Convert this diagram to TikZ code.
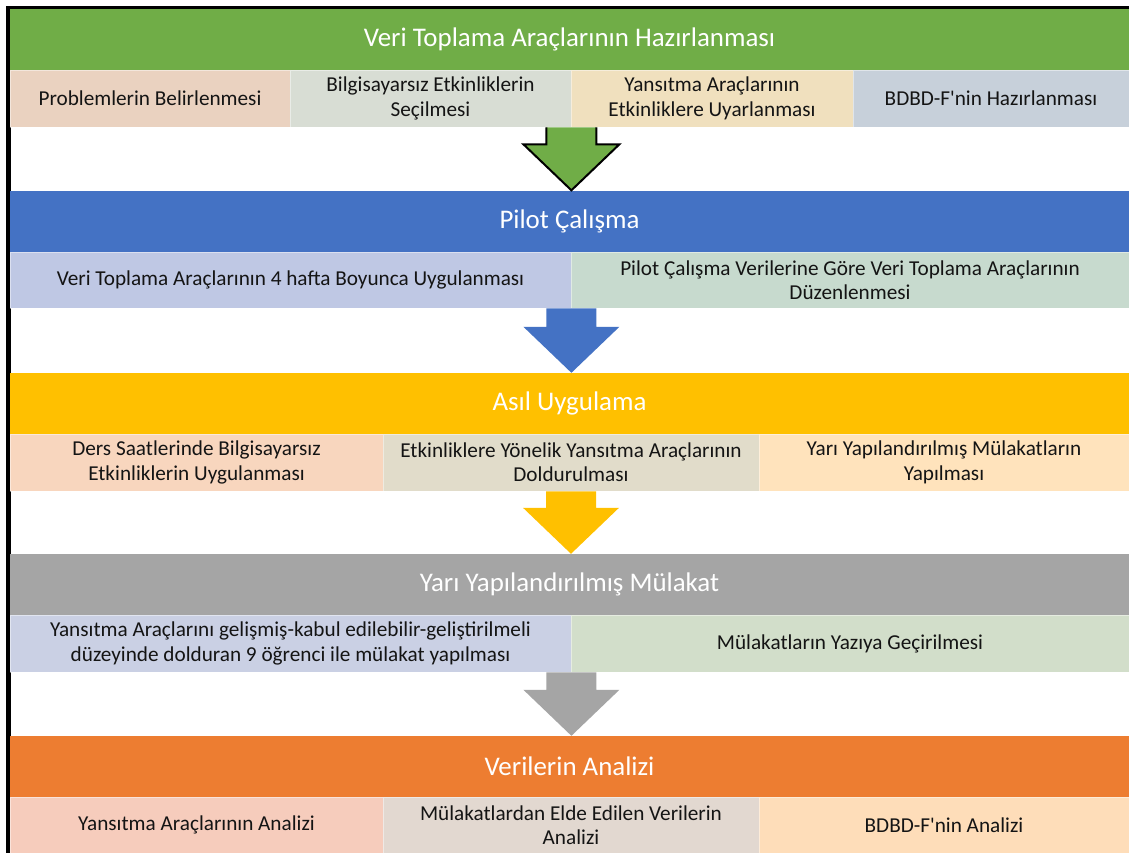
\documentclass[tikz,border=0pt]{standalone}
\usepackage{fontspec}
\setmainfont{Carlito}[Ligatures=TeXOff]
\usetikzlibrary{calc}
\definecolor{cgreen}{HTML}{70AD47}
\definecolor{cblue}{HTML}{4472C4}
\definecolor{cyellow}{HTML}{FFC000}
\definecolor{cgray}{HTML}{A5A5A5}
\definecolor{corange}{HTML}{ED7D31}
\definecolor{ra}{HTML}{EAD2C0}
\definecolor{rb}{HTML}{D8DDD4}
\definecolor{rc}{HTML}{F0E0BE}
\definecolor{rd}{HTML}{C7D0DA}
\definecolor{sa}{HTML}{BFC8E4}
\definecolor{sb}{HTML}{C7DACE}
\definecolor{ta}{HTML}{F8D6BE}
\definecolor{tb}{HTML}{E1DCCA}
\definecolor{tc}{HTML}{FFE3BC}
\definecolor{ua}{HTML}{CAD0E4}
\definecolor{ub}{HTML}{D2DECA}
\definecolor{va}{HTML}{F6CCBC}
\definecolor{vb}{HTML}{E2D8D0}
\definecolor{vc}{HTML}{FEDDB9}
\definecolor{txt}{HTML}{141414}
\tikzset{
  bar/.style={rectangle, inner sep=0pt, minimum width=1119bp, minimum height=61bp,
    text=white, font=\fontsize{27}{32}\selectfont},
  cell/.style={rectangle, inner sep=0pt, minimum height=57bp, draw=white, draw opacity=0.45,
    line width=0.8bp, text=txt, align=center, font=\fontsize{21.3}{24.5}\selectfont},
}
\newcommand\flowarrow[4]{%
  \fill[#3] ([xshift=-25bp]#1) -- ([xshift=25bp]#1) -- ([xshift=25bp,yshift=46bp]#2)
   -- ([xshift=48bp,yshift=46bp]#2) -- (#2) -- ([xshift=-48bp,yshift=46bp]#2)
   -- ([xshift=-25bp,yshift=46bp]#2) -- cycle;
  \draw[#4] ([xshift=-25bp]#1) -- ([xshift=-25bp,yshift=46bp]#2)
   -- ([xshift=-48bp,yshift=46bp]#2) -- (#2) -- ([xshift=48bp,yshift=46bp]#2)
   -- ([xshift=25bp,yshift=46bp]#2) -- ([xshift=25bp]#1);}
\begin{document}
\begin{tikzpicture}[x=1bp,y=-1bp]
\useasboundingbox (0,0) rectangle (1129,853);
\fill[white] (0,0) rectangle (1129,853);
% frame
\fill[black] (6,6) rectangle (10.5,853);
\fill[black] (6,6) rectangle (1129,9.5);
% stage 1
\node[bar, fill=cgreen] (b1) at (569.5,39.5) {Veri Toplama Araçlarının Hazırlanması};
\node[cell, fill=ra, minimum width=280bp] (r1a) at (150,98.5) {Problemlerin Belirlenmesi};
\node[cell, fill=rb, minimum width=281bp] (r1b) at (430.5,98.5) {Bilgisayarsız Etkinliklerin\\Seçilmesi};
\node[cell, fill=rc, minimum width=282bp] (r1c) at (712,98.5) {Yansıtma Araçlarının\\Etkinliklere Uyarlanması};
\node[cell, fill=rd, minimum width=276bp] (r1d) at (991,98.5) {BDBD-F'nin Hazırlanması};
% stage 2
\node[bar, fill=cblue] (b2) at (569.5,221) {Pilot Çalışma};
\node[cell, fill=sa, minimum width=561bp, minimum height=56bp] (r2a) at (290.5,280) {Veri Toplama Araçlarının 4 hafta Boyunca Uygulanması};
\node[cell, fill=sb, minimum width=558bp, minimum height=56bp] (r2b) at (850,280) {Pilot Çalışma Verilerine Göre Veri Toplama Araçlarının\\Düzenlenmesi};
% stage 3
\node[bar, fill=cyellow] (b3) at (569.5,403.5) {Asıl Uygulama};
\node[cell, fill=ta, minimum width=373bp] (r3a) at (196.5,462.5) {Ders Saatlerinde Bilgisayarsız\\Etkinliklerin Uygulanması};
\node[cell, fill=tb, minimum width=376bp] (r3b) at (571,462.5) {Etkinliklere Yönelik Yansıtma Araçlarının\\Doldurulması};
\node[cell, fill=tc, minimum width=370bp] (r3c) at (944,462.5) {Yarı Yapılandırılmış Mülakatların\\Yapılması};
% stage 4
\node[bar, fill=cgray] (b4) at (569.5,584.5) {Yarı Yapılandırılmış Mülakat};
\node[cell, fill=ua, minimum width=561bp] (r4a) at (290.5,643.5) {Yansıtma Araçlarını gelişmiş-kabul edilebilir-geliştirilmeli\\düzeyinde dolduran 9 öğrenci ile mülakat yapılması};
\node[cell, fill=ub, minimum width=558bp] (r4b) at (850,643.5) {Mülakatların Yazıya Geçirilmesi};
% stage 5
\node[bar, fill=corange] (b5) at (569.5,766.5) {Verilerin Analizi};
\node[cell, fill=va, minimum width=373bp, minimum height=56bp] (r5a) at (196.5,825) {Yansıtma Araçlarının Analizi};
\node[cell, fill=vb, minimum width=376bp, minimum height=56bp] (r5b) at (571,825) {Mülakatlardan Elde Edilen Verilerin\\Analizi};
\node[cell, fill=vc, minimum width=370bp, minimum height=56bp] (r5c) at (944,825) {BDBD-F'nin Analizi};
% connectors
\coordinate (s1) at (r1b.south east);
\coordinate (e1) at (s1 |- b2.north);
\coordinate (s2) at (r2a.south east);
\coordinate (e2) at (s2 |- b3.north);
\coordinate (s3) at (r3b.south);
\coordinate (e3) at (s3 |- b4.north);
\coordinate (s4) at (r4a.south east);
\coordinate (e4) at (s4 |- b5.north);
\flowarrow{s1}{e1}{cgreen}{black, line width=2bp, line join=miter}
\flowarrow{s2}{e2}{cblue}{draw=none}
\flowarrow{s3}{e3}{cyellow}{draw=none}
\flowarrow{s4}{e4}{cgray}{draw=none}
\end{tikzpicture}
\end{document}
